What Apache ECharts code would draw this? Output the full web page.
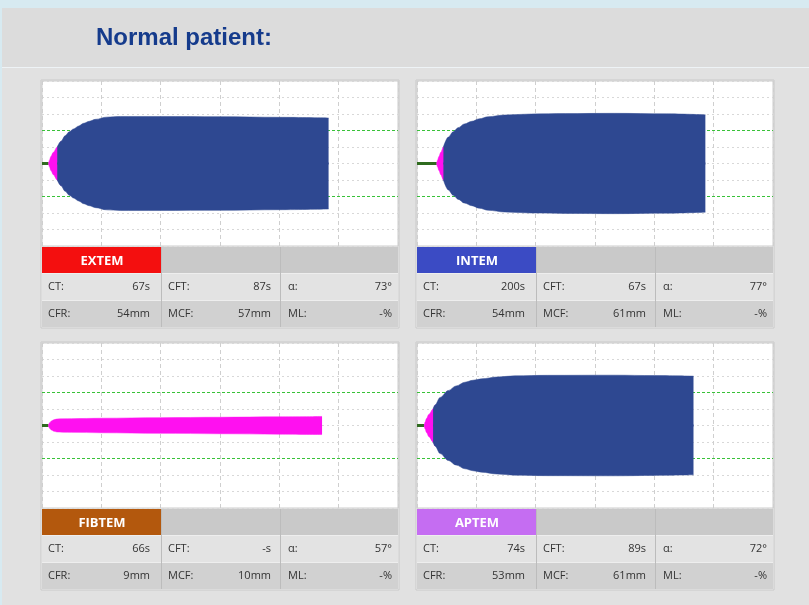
<!DOCTYPE html>
<html>
<head>
<meta charset="utf-8">
<script src="https://cdn.jsdelivr.net/npm/echarts@6/dist/echarts.min.js"></script>
<style>
  html, body { margin: 0; padding: 0; background: #e0e0e0; }
  #chart { width: 809px; height: 605px; }
</style>
</head>
<body>
<div id="chart"></div>
<script>
// table values
const tests = ['EXTEM', 'INTEM', 'FIBTEM', 'APTEM'];
const ctVals = ['67s', '200s', '66s', '74s'];
const cftVals = ['87s', '67s', '-s', '89s'];
const alphaVals = ['73°', '77°', '57°', '72°'];
const cfrVals = ['54mm', '54mm', '9mm', '53mm'];
const mcfVals = ['57mm', '61mm', '10mm', '61mm'];
const mlVals = ['-%', '-%', '-%', '-%'];

// clot time (s) used for the flat start of each trace
const ctSeconds = [67, 200, 66, 74];

// amplitude traces: time in minutes, amplitude in mm
const extemTime = [1.12, 1.25, 1.5, 1.9, 2.57, 3.2, 3.9, 4.6, 5.3, 6.2, 7.0, 8.0, 9.0, 10.9, 13.2, 16, 20, 30, 40, 48.3];
const extemAmp  = [0, 4, 8.5, 13.5, 20, 27, 33.7, 38.5, 41.8, 45.5, 48.7, 51.2, 53.5, 56.2, 57, 57, 57, 56.8, 56, 55.2];
const intemTime = [3.33, 3.45, 3.7, 4.0, 4.45, 5.28, 6.1, 6.97, 8.0, 9.22, 10.5, 12.0, 14.8, 19.3, 25, 33.3, 42, 48.6];
const intemAmp  = [0, 4, 8.5, 13.5, 20, 32, 38.5, 43.5, 48, 51.1, 54.2, 56.7, 58.8, 60, 60.5, 60.8, 60.2, 59];
const fibtemTime = [1.1, 1.3, 1.6, 2.0, 2.5, 3.5, 5, 10, 20, 30, 40, 47.2];
const fibtemAmp  = [0, 3.5, 5.5, 7, 7.8, 8.1, 8.3, 8.8, 9.5, 10, 10.5, 11];
const aptemTime = [1.23, 1.35, 1.6, 2.0, 2.71, 3.04, 3.9, 5.28, 6.6, 8.1, 9.4, 10.9, 13.5, 16.5, 22, 33.4, 40, 46.6];
const aptemAmp  = [0, 4, 8.5, 13.5, 20, 25, 34, 42.4, 48, 52.5, 54.8, 56.6, 58.8, 60.2, 60.8, 61, 60.5, 59.8];

// reference amplitude lines (half amplitude, mm) and time axis range (min)
const refLines = [20, -20];
const timeRange = [0, 60];
const cftThreshold = 20;

const traces = [
  { time: extemTime, amp: extemAmp },
  { time: intemTime, amp: intemAmp },
  { time: fibtemTime, amp: fibtemAmp },
  { time: aptemTime, amp: aptemAmp }
];

const labelColors = ['#f40f0f', '#3b4bc4', '#b3580d', '#c56df2'];
const panels = [
  { left: 42, top: 81 }, { left: 417, top: 81 },
  { left: 42, top: 343 }, { left: 417, top: 343 }
];
const W = 356, H = 165;

const chart = echarts.init(document.getElementById('chart'));

function half(t, a, from, to, sign) {
  const out = [];
  for (let i = from; i <= to; i++) out.push([t[i], sign * a[i] / 2]);
  return out;
}

const grids = [], xAxes = [], yAxes = [], series = [], graphics = [];

// page background
graphics.push(
  { type: 'rect', shape: { x: 0, y: 0, width: 809, height: 605 }, style: { fill: '#e1e1e1' }, z: -10 },
  { type: 'rect', shape: { x: 0, y: 0, width: 809, height: 67 }, style: { fill: '#dcdcdc' }, z: -10 },
  { type: 'rect', shape: { x: 0, y: 0, width: 809, height: 8 }, style: { fill: '#d7eaf1' }, z: -9 },
  { type: 'rect', shape: { x: 0, y: 0, width: 2, height: 605 }, style: { fill: '#d7eaf1' }, z: -9 },
  { type: 'rect', shape: { x: 2, y: 67, width: 807, height: 1 }, style: { fill: '#eef3f6' }, z: -9 },
  {
    type: 'text', left: 96, top: 26, z: 10,
    style: { text: 'Normal patient:', fill: '#153b8c', font: 'bold 24px "Liberation Sans", Arial, sans-serif' }
  }
);

tests.forEach((name, k) => {
  const p = panels[k];
  grids.push({ left: p.left, top: p.top, width: W, height: H, show: true, backgroundColor: '#ffffff', borderColor: '#cdcdcd', borderWidth: 1 });
  xAxes.push({
    gridIndex: k, type: 'value', min: timeRange[0], max: timeRange[1], interval: 10,
    axisLine: { show: false }, axisTick: { show: false }, axisLabel: { show: false },
    splitLine: { lineStyle: { color: '#cfcfcf', type: [4, 3] } }
  });
  yAxes.push({
    gridIndex: k, type: 'value', min: -50, max: 50, interval: 10,
    axisLine: { show: false }, axisTick: { show: false }, axisLabel: { show: false },
    splitLine: { lineStyle: { color: '#d8d8d8', type: [2, 3] } }
  });

  const tr = traces[k];
  const ctMin = ctSeconds[k] / 60;
  let split = tr.amp.findIndex(v => v >= cftThreshold);
  const last = tr.time.length - 1;
  if (split < 0) split = last;
  const pinkEnd = Math.min(split + 1, last);

  // green reference lines across the whole time range
  refLines.forEach(v => {
    series.push({
      type: 'line', xAxisIndex: k, yAxisIndex: k, z: 1, symbol: 'none', silent: true,
      data: timeRange.map(t => [t, v]),
      lineStyle: { color: '#39c239', type: [3, 2], width: 1 }
    });
  });

  // flat line before clotting
  series.push({
    type: 'line', xAxisIndex: k, yAxisIndex: k, z: 2, symbol: 'none', silent: true,
    data: [[0, 0], [ctMin, 0]],
    lineStyle: { color: '#2f6b1f', width: 3 }
  });

  const shape = (data, color, z, origin) => ({
    type: 'line', xAxisIndex: k, yAxisIndex: k, z, symbol: 'none', silent: true,
    smooth: 0.35, smoothMonotone: 'x', data,
    lineStyle: { color, width: 0.5 },
    areaStyle: { color, opacity: 1, origin }
  });
  series.push(shape(half(tr.time, tr.amp, 0, pinkEnd, 1), '#ff10f0', 3, -0.6));
  series.push(shape(half(tr.time, tr.amp, 0, pinkEnd, -1), '#ff10f0', 3, 0.6));
  if (split < last) {
    series.push(shape(half(tr.time, tr.amp, split, last, 1), '#2e4891', 4, -0.6));
    series.push(shape(half(tr.time, tr.amp, split, last, -1), '#2e4891', 4, 0.6));
  }

  // result table under each trace
  const L = p.left, B = p.top + H + 1;
  const font = '11px "Open Sans", "Noto Sans", sans-serif';
  graphics.push(
    { type: 'rect', shape: { x: L - 1, y: p.top - 1, width: W + 2, height: H + 83 }, style: { fill: '#eeeeee', stroke: '#c9c9c9', lineWidth: 1 }, z: -5 },
    { type: 'rect', shape: { x: L, y: B, width: W, height: 26 }, style: { fill: '#c9c9c9' } },
    { type: 'rect', shape: { x: L, y: B, width: 119, height: 26 }, style: { fill: labelColors[k] } },
    { type: 'rect', shape: { x: L, y: B + 27, width: W, height: 26 }, style: { fill: '#e3e3e3' } },
    { type: 'rect', shape: { x: L, y: B + 54, width: W, height: 26 }, style: { fill: '#d1d1d1' } },
    { type: 'rect', shape: { x: L + 119, y: B, width: 1, height: 80 }, style: { fill: '#bcbcbc' } },
    { type: 'rect', shape: { x: L + 238, y: B, width: 1, height: 80 }, style: { fill: '#bcbcbc' } },
    {
      type: 'text', x: L + 60, y: B + 14,
      style: { text: name, fill: '#ffffff', font: 'bold 13px "Open Sans", "Noto Sans", sans-serif', align: 'center', verticalAlign: 'middle' }
    }
  );
  const rows = [
    [['CT:', ctVals[k]], ['CFT:', cftVals[k]], ['α:', alphaVals[k]]],
    [['CFR:', cfrVals[k]], ['MCF:', mcfVals[k]], ['ML:', mlVals[k]]]
  ];
  rows.forEach((row, r) => {
    const cy = B + 40 + r * 27;
    row.forEach((cell, c) => {
      graphics.push(
        { type: 'text', x: L + 6 + c * 120, y: cy, style: { text: cell[0], fill: '#333333', font, align: 'left', verticalAlign: 'middle' } },
        { type: 'text', x: L + 108 + c * 121, y: cy, style: { text: cell[1], fill: '#333333', font, align: 'right', verticalAlign: 'middle' } }
      );
    });
  });
});

const option = {
  backgroundColor: '#e1e1e1',
  animation: false,
  grid: grids,
  xAxis: xAxes,
  yAxis: yAxes,
  series: series,
  graphic: graphics
};
option && chart.setOption(option);
</script>
</body>
</html>
